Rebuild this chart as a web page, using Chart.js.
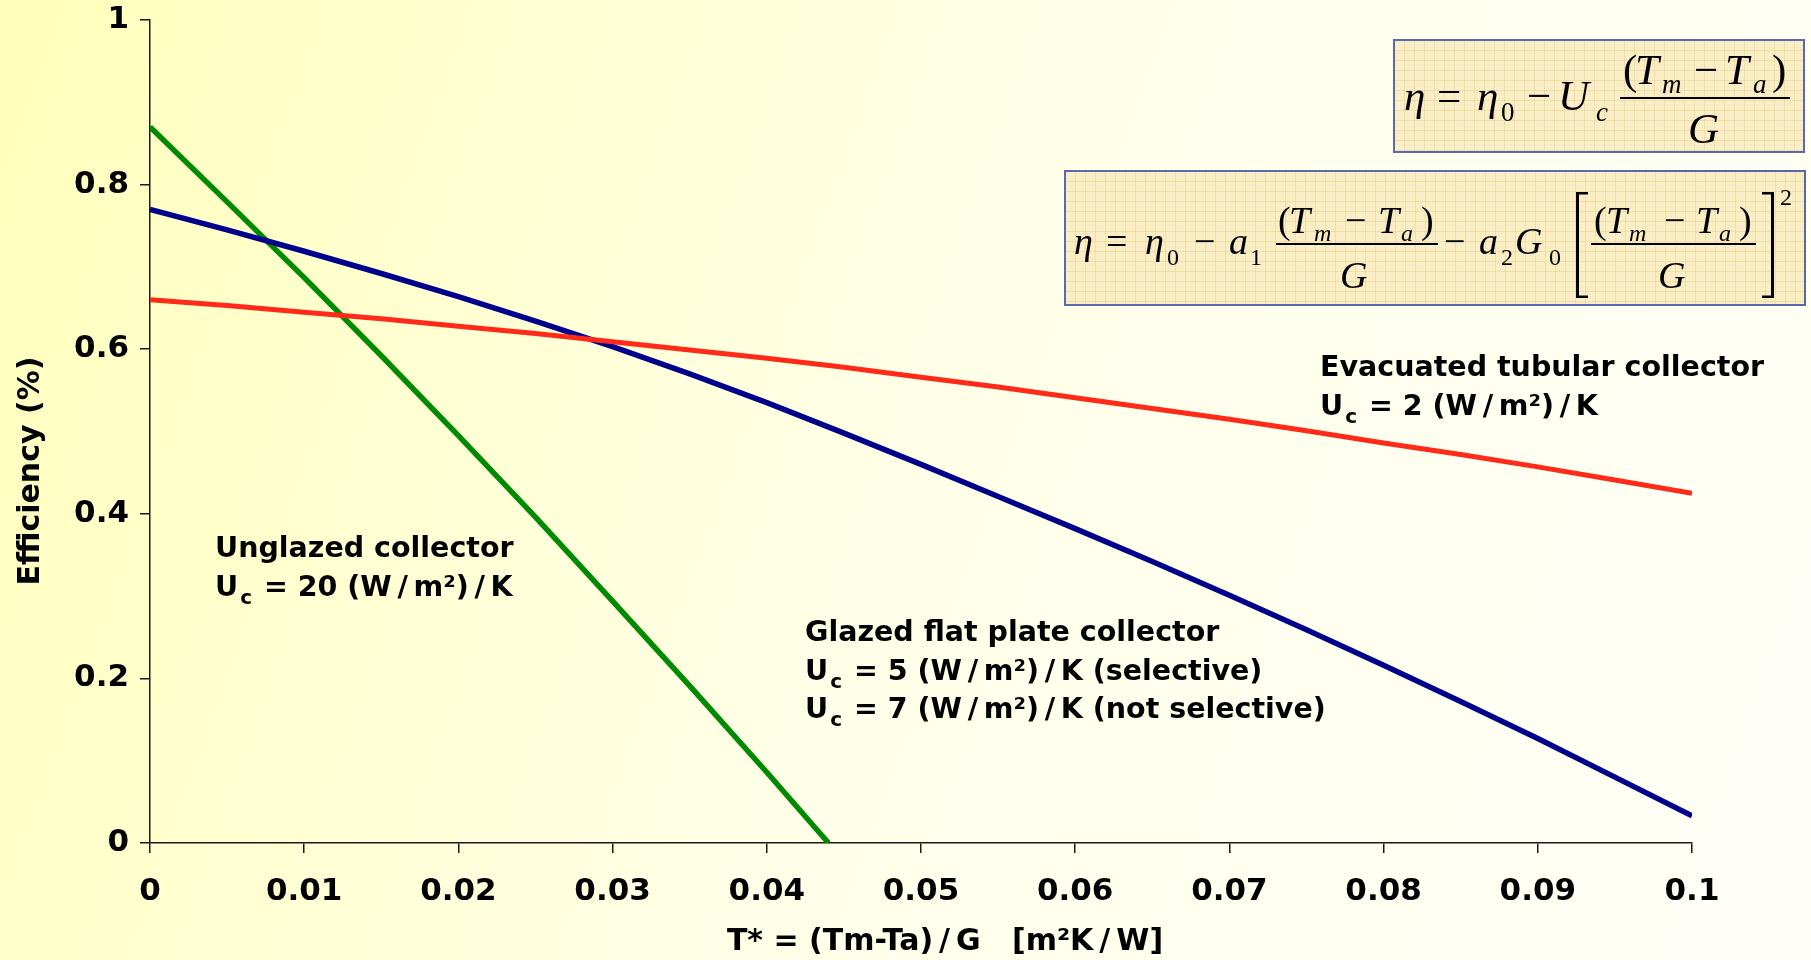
<!DOCTYPE html>
<html>
<head>
<meta charset="utf-8">
<script src="https://cdn.jsdelivr.net/npm/chart.js@4.4.1/dist/chart.umd.min.js"></script>
<style>
  body { margin: 0; background: #ffffe8; }
  #wrap { width: 1811px; height: 960px; position: relative; }
</style>
</head>
<body>
<div id="wrap"><canvas id="myChart"></canvas></div>
<script>
// valori (T* in m2K/W, efficienza 0..1)
const tUnglazed = [0, 0.005, 0.01, 0.015, 0.02, 0.025, 0.03, 0.035, 0.04, 0.044];
const etaUnglazed = [0.870, 0.779, 0.687, 0.592, 0.495, 0.396, 0.294, 0.191, 0.086, 0.0];

const tGlazed = [0, 0.005, 0.01, 0.015, 0.02, 0.025, 0.03, 0.035, 0.04, 0.045, 0.05,
  0.055, 0.06, 0.065, 0.07, 0.075, 0.08, 0.085, 0.09, 0.095, 0.1];
const etaGlazed = [0.770, 0.745, 0.719, 0.692, 0.664, 0.634, 0.603, 0.570, 0.535, 0.498, 0.460,
  0.421, 0.382, 0.342, 0.301, 0.259, 0.216, 0.172, 0.127, 0.080, 0.033];

const tEvacuated = tGlazed;
const etaEvacuated = [0.660, 0.653, 0.645, 0.637, 0.628, 0.619, 0.609, 0.599, 0.589, 0.578, 0.566,
  0.554, 0.541, 0.528, 0.515, 0.501, 0.486, 0.472, 0.457, 0.441, 0.425];

const xMin = 0, xMax = 0.1, xStep = 0.01;
const yMin = 0, yMax = 1, yStep = 0.2;

// \u2009 = spazio sottile attorno alla barra, per imitare la barra larga di Verdana
const SL = '\u2009/\u2009';
const xTitle = 'T* = (Tm-Ta)' + SL + 'G   [m²K' + SL + 'W]';
const yTitle = 'Efficiency (%)';

const notes = [
  { lines: ['Unglazed collector', ['U', 'c', ' = 20 (W' + SL + 'm²)' + SL + 'K']], x: 215, y: 550 },
  { lines: ['Glazed flat plate collector', ['U', 'c', ' = 5 (W' + SL + 'm²)' + SL + 'K (selective)'], ['U', 'c', ' = 7 (W' + SL + 'm²)' + SL + 'K (not selective)']], x: 805, y: 634 },
  { lines: ['Evacuated tubular collector', ['U', 'c', ' = 2 (W' + SL + 'm²)' + SL + 'K']], x: 1320, y: 369 }
];

const toPoints = (xs, ys) => xs.map((x, i) => ({ x: x, y: ys[i] }));

const fmt = v => String(Number(v.toFixed(3)));

// sfondo sfumato giallo
const backgroundPlugin = {
  id: 'bg',
  beforeDraw(chart) {
    const c = chart.ctx;
    const g = c.createLinearGradient(0, 150, chart.width, 810);
    g.addColorStop(0, '#ffffbd');
    g.addColorStop(0.5, '#ffffe8');
    g.addColorStop(1, '#fffff8');
    c.save();
    c.fillStyle = g;
    c.fillRect(0, 0, chart.width, chart.height);
    c.restore();
  }
};

function mathText(c, s, x, y, size, italic) {
  c.font = (italic ? 'italic ' : '') + size + 'px "Liberation Serif", "DejaVu Serif", serif';
  c.fillText(s, x, y);
}

function formulaBox(c, x, y, w, h) {
  c.fillStyle = '#f9eec6';
  c.fillRect(x, y, w, h);
  c.strokeStyle = 'rgba(232, 205, 130, 0.45)';
  c.lineWidth = 1;
  c.beginPath();
  for (let gx = x + 10; gx < x + w; gx += 10) { c.moveTo(gx + 0.5, y); c.lineTo(gx + 0.5, y + h); }
  for (let gy = y + 10; gy < y + h; gy += 10) { c.moveTo(x, gy + 0.5); c.lineTo(x + w, gy + 0.5); }
  c.stroke();
  c.strokeStyle = '#5a68b0';
  c.lineWidth = 2;
  c.strokeRect(x, y, w, h);
}

function hline(c, x1, x2, y) {
  c.fillRect(x1, y - 1, x2 - x1, 2);
}

// formule e testi
const overlayPlugin = {
  id: 'overlay',
  afterDraw(chart) {
    const c = chart.ctx;
    c.save();

    // formula 1
    formulaBox(c, 1394, 40, 410, 112);
    c.fillStyle = '#000';
    c.textBaseline = 'alphabetic';
    c.textAlign = 'left';
    let S = 43, s = 27;
    mathText(c, 'η', 1404, 110, S, true);
    mathText(c, '=', 1437, 110, S, false);
    mathText(c, 'η', 1477, 110, S, true);
    mathText(c, '0', 1501, 121, s, false);
    mathText(c, '−', 1527, 110, S, false);
    mathText(c, 'U', 1558, 110, S, true);
    mathText(c, 'c', 1596, 121, s, true);
    hline(c, 1620, 1790, 98);
    mathText(c, '(', 1623, 84, S, false);
    mathText(c, 'T', 1635, 84, S, true);
    mathText(c, 'm', 1662, 93, s, true);
    mathText(c, '−', 1694, 84, S, false);
    mathText(c, 'T', 1725, 84, S, true);
    mathText(c, 'a', 1753, 93, s, true);
    mathText(c, ')', 1772, 84, S, false);
    mathText(c, 'G', 1688, 143, S, true);

    // formula 2
    formulaBox(c, 1065, 171, 740, 134);
    c.fillStyle = '#000';
    S = 38; s = 24;
    const b = 254, nb = 233, db = 288;
    mathText(c, 'η', 1074, b, S, true);
    mathText(c, '=', 1106, b, S, false);
    mathText(c, 'η', 1145, b, S, true);
    mathText(c, '0', 1167, b + 11, s, false);
    mathText(c, '−', 1194, b, S, false);
    mathText(c, 'a', 1229, b, S, true);
    mathText(c, '1', 1250, b + 11, s, false);
    hline(c, 1276, 1438, 244);
    mathText(c, '(', 1278, nb, S, false);
    mathText(c, 'T', 1289, nb, S, true);
    mathText(c, 'm', 1314, nb + 8, s, true);
    mathText(c, '−', 1345, nb, S, false);
    mathText(c, 'T', 1378, nb, S, true);
    mathText(c, 'a', 1401, nb + 8, s, true);
    mathText(c, ')', 1421, nb, S, false);
    mathText(c, 'G', 1340, db, S, true);
    mathText(c, '−', 1444, b, S, false);
    mathText(c, 'a', 1479, b, S, true);
    mathText(c, '2', 1501, b + 11, s, false);
    mathText(c, 'G', 1515, b, S, true);
    mathText(c, '0', 1549, b + 11, s, false);
    // parentesi quadre
    c.fillRect(1576, 192, 3, 106);
    c.fillRect(1576, 192, 12, 2.5);
    c.fillRect(1576, 295.5, 12, 2.5);
    hline(c, 1591, 1756, 244);
    mathText(c, '(', 1594, nb, S, false);
    mathText(c, 'T', 1606, nb, S, true);
    mathText(c, 'm', 1629, nb + 8, s, true);
    mathText(c, '−', 1664, nb, S, false);
    mathText(c, 'T', 1696, nb, S, true);
    mathText(c, 'a', 1719, nb + 8, s, true);
    mathText(c, ')', 1739, nb, S, false);
    mathText(c, 'G', 1658, db, S, true);
    c.fillRect(1771, 192, 3, 106);
    c.fillRect(1762, 192, 12, 2.5);
    c.fillRect(1762, 295.5, 12, 2.5);
    mathText(c, '2', 1780, 205, s, false);

    // etichette delle curve
    const big = 'bold 28.5px "DejaVu Sans", Verdana, sans-serif';
    const small = 'bold 20px "DejaVu Sans", Verdana, sans-serif';
    c.fillStyle = '#000';
    c.textBaseline = 'middle';
    notes.forEach(n => {
      n.lines.forEach((ln, i) => {
        const y = n.y + i * 38.5;
        c.font = big;
        if (typeof ln === 'string') {
          c.fillText(ln, n.x, y);
        } else {
          c.fillText(ln[0], n.x, y);
          let w = c.measureText(ln[0]).width;
          c.font = small;
          c.fillText(ln[1], n.x + w + 2, y + 10);
          w += c.measureText(ln[1]).width + 4;
          c.font = big;
          c.fillText(ln[2], n.x + w, y);
        }
      });
    });

    // titoli degli assi
    c.font = 'bold 30px "DejaVu Sans", Verdana, sans-serif';
    c.textAlign = 'center';
    c.fillText(xTitle, 945, 942);
    c.translate(31, 471);
    c.rotate(-Math.PI / 2);
    c.font = 'bold 30px "DejaVu Sans", Verdana, sans-serif';
    c.fillText(yTitle, 0, 0);
    c.restore();
  }
};

const axisColor = '#1a1a1a';
const tickFont = { family: '"DejaVu Sans", Verdana, sans-serif', size: 31, weight: 'bold' };

new Chart(document.getElementById('myChart'), {
  type: 'line',
  data: {
    datasets: [
      {
        label: 'Evacuated tubular collector',
        data: toPoints(tEvacuated, etaEvacuated),
        borderColor: '#ff2a17',
        borderWidth: 5,
        pointRadius: 0,
        tension: 0
      },
      {
        label: 'Glazed flat plate collector',
        data: toPoints(tGlazed, etaGlazed),
        borderColor: '#00008c',
        borderWidth: 5.5,
        pointRadius: 0,
        tension: 0
      },
      {
        label: 'Unglazed collector',
        data: toPoints(tUnglazed, etaUnglazed),
        borderColor: '#008a00',
        borderWidth: 5.5,
        pointRadius: 0,
        tension: 0
      }
    ]
  },
  options: {
    responsive: true,
    maintainAspectRatio: false,
    animation: false,
    layout: { padding: { top: 20, right: 119, left: 0, bottom: 0 } },
    plugins: {
      legend: { display: false },
      tooltip: { enabled: false }
    },
    scales: {
      x: {
        type: 'linear',
        min: xMin,
        max: xMax,
        afterFit: scale => {
          scale.height = 117;
          scale.paddingLeft = 0;
          scale.paddingRight = 0;
        },
        border: { color: axisColor, width: 1.5 },
        grid: { drawOnChartArea: false, drawTicks: true, tickLength: 10, color: axisColor, lineWidth: 1.5 },
        ticks: {
          stepSize: xStep,
          color: '#000',
          font: tickFont,
          padding: 20,
          maxRotation: 0,
          autoSkip: false,
          callback: v => fmt(v)
        }
      },
      y: {
        type: 'linear',
        min: yMin,
        max: yMax,
        afterFit: scale => {
          scale.width = 150;
          scale.paddingTop = 0;
          scale.paddingBottom = 0;
        },
        border: { color: axisColor, width: 1.5 },
        grid: { drawOnChartArea: false, drawTicks: true, tickLength: 10, color: axisColor, lineWidth: 1.5 },
        ticks: {
          stepSize: yStep,
          color: '#000',
          font: tickFont,
          padding: 11,
          callback: v => fmt(v)
        }
      }
    }
  },
  plugins: [backgroundPlugin, overlayPlugin]
});
</script>
</body>
</html>
